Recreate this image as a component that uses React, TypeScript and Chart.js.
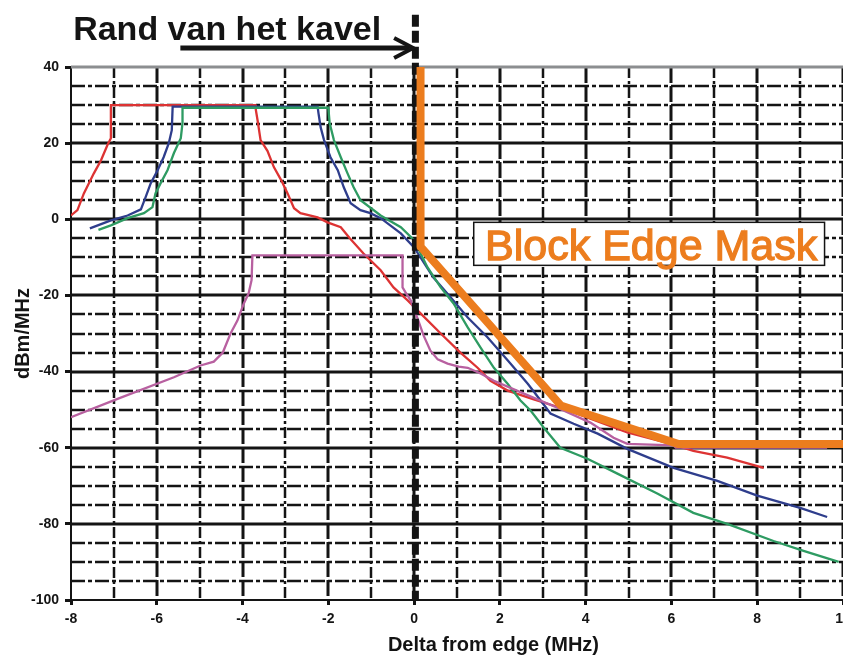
import React, { useEffect, useRef } from 'react';
import { Chart, registerables } from 'chart.js';

Chart.register(...registerables);

// ---------- axis ranges & tick labels ----------
const X_MIN = -8;
const X_MAX = 10;
const Y_MIN = -100;
const Y_MAX = 40;
const xTickLabels = [-8, -6, -4, -2, 0, 2, 4, 6, 8, 10];
const yTickLabels = [40, 20, 0, -20, -40, -60, -80, -100];

// ---------- series (x = MHz from block edge, y = dBm/MHz) ----------
const redSeries: [number, number][] = [
  [-8.0, 1.0], [-7.85, 2.4], [-7.7, 6.8], [-7.47, 12], [-7.3, 15.5], [-7.15, 19.5], [-7.07, 21.3],
  [-7.07, 30], [-3.7, 30], [-3.69, 28.7], [-3.65, 26], [-3.58, 20.8], [-3.42, 18], [-3.27, 13.7],
  [-3.1, 10.3], [-2.95, 6.8], [-2.8, 2.9], [-2.65, 1.6], [-2.25, 0.5], [-2.02, -0.8], [-1.71, -2.1],
  [-1.5, -5], [-1.18, -9], [-0.78, -13.4], [-0.48, -17.9], [-0.15, -21.3], [0.15, -24.7], [0.62, -30],
  [1.08, -35], [1.48, -39], [1.78, -42.4], [2.18, -45], [2.79, -47.3], [3.41, -49.5], [4.11, -52.4],
  [4.97, -56], [5.9, -58.7], [6.51, -60.8], [7.3, -62.6], [8.15, -65.3],
];

const blueSeries: [number, number][] = [
  [-7.56, -2.4], [-7.07, -0.3], [-6.68, 1], [-6.37, 2.6], [-6.26, 5.8], [-6.14, 9.5], [-5.98, 12.9],
  [-5.84, 16.3], [-5.72, 20], [-5.65, 23.4], [-5.63, 29.6], [-2.25, 29.6], [-2.23, 27.9], [-2.18, 24.2],
  [-2.1, 20.8], [-1.95, 16.3], [-1.78, 12.9], [-1.64, 8.4], [-1.48, 4.2], [-1.25, 2.4], [-1.02, 1.6],
  [-0.78, 0.3], [-0.31, -3.7], [0, -7.4], [0.45, -15.3], [0.85, -20.5], [1.25, -25.8], [1.71, -31],
  [2.18, -37], [2.65, -43.2], [2.95, -47.6], [3.18, -51], [3.72, -53.7], [4.28, -56.3], [4.97, -60.3],
  [6.05, -65.3], [7.07, -68.7], [8.0, -72.6], [9.0, -75.8], [9.63, -78.2],
];

const greenSeries: [number, number][] = [
  [-7.36, -2.8], [-7.07, -1.6], [-6.68, 0.3], [-6.3, 1.6], [-6.1, 3.2], [-6.03, 6.8], [-5.91, 9.5],
  [-5.75, 12.9], [-5.6, 17.4], [-5.44, 21.3], [-5.4, 25.3], [-5.4, 29.3], [-2.0, 29.3], [-1.97, 25.3],
  [-1.87, 20.8], [-1.71, 16.3], [-1.55, 12], [-1.41, 8.4], [-1.25, 5], [-0.78, 1], [-0.31, -2.1],
  [0, -5.5], [0.31, -12.6], [0.62, -17.9], [0.92, -22.1], [1.25, -28.4], [1.55, -33.7], [1.86, -39],
  [2.18, -43.2], [2.48, -47.6], [2.72, -50.3], [3.02, -54.7], [3.41, -60], [4.04, -62.9], [4.74, -66.8],
  [5.68, -72.1], [6.51, -77.1], [7.3, -80], [8.38, -84.5], [9.08, -87.1], [9.9, -90],
];

const magentaSeries: [number, number][] = [
  [-8.0, -52], [-6.9, -47.1], [-5.6, -41.5], [-4.98, -38.4], [-4.67, -37.4], [-4.46, -35], [-4.28, -30],
  [-4.12, -26.6], [-3.97, -22.1], [-3.86, -19.5], [-3.79, -16], [-3.77, -9.5], [-0.27, -9.5],
  [-0.27, -17.9], [-0.2, -19.2], [-0.08, -21.3], [0.08, -26], [0.22, -30.5], [0.38, -34.5], [0.55, -36.8],
  [0.78, -37.9], [1.04, -38.7], [1.25, -39], [1.55, -40.5], [1.86, -42.4], [2.56, -45.8], [3.34, -49.5],
  [4.11, -53.4], [4.65, -57.4], [4.97, -59], [6.05, -59.4], [6.1, -60], [9.63, -60],
];

const maskSeries: [number, number][] = [
  [0.15, 40], [0.15, -7.2], [3.42, -48.9], [6.15, -59], [10, -59],
];

// block edge marker (dashed black line) and annotations
const edgeX = 0.03;
const edgeTop = 53.7;
const edgeLine: [number, number][] = [[edgeX, edgeTop], [edgeX, Y_MIN]];

const titleText = 'Rand van het kavel';
const maskLabel = 'Block Edge Mask';
const xTitle = 'Delta from edge (MHz)';
const yTitle = 'dBm/MHz';

const COLORS = {
  red: '#dd3333',
  blue: '#2e3d8c',
  green: '#2e9b62',
  magenta: '#b860a0',
  orange: '#ec7d1e',
  ink: '#141414',
  grey: '#8c8e90',
};

const toXY = (arr: [number, number][]) => arr.map(([x, y]) => ({ x, y }));

const gridPlugin = {
  id: 'customGrid',
  beforeDatasetsDraw(chart: any) {
    const { ctx, chartArea: a, scales } = chart;
    const xs = scales.x;
    const ys = scales.y;
    ctx.save();
    // vertical lines every 1 MHz
    for (let v = X_MIN + 1; v <= X_MAX; v++) {
      const px = Math.round(xs.getPixelForValue(v));
      const even = v % 2 === 0;
      ctx.beginPath();
      ctx.lineWidth = even ? 3 : 2.5;
      ctx.strokeStyle = COLORS.ink;
      ctx.setLineDash(even ? [16, 3] : [11, 3, 3, 3]);
      ctx.moveTo(px, a.top);
      ctx.lineTo(px, a.bottom);
      ctx.stroke();
    }
    // horizontal lines every 5 dB
    for (let v = Y_MIN + 5; v <= Y_MAX; v += 5) {
      const py = Math.round(ys.getPixelForValue(v));
      ctx.beginPath();
      if (v === Y_MAX) {
        ctx.lineWidth = 3;
        ctx.strokeStyle = COLORS.grey;
        ctx.setLineDash([]);
      } else if (v % 20 === 0) {
        ctx.lineWidth = 3;
        ctx.strokeStyle = COLORS.ink;
        ctx.setLineDash([]);
      } else {
        ctx.lineWidth = 2.5;
        ctx.strokeStyle = COLORS.ink;
        ctx.setLineDash([14, 3, 4, 3]);
      }
      ctx.moveTo(a.left, py);
      ctx.lineTo(a.right, py);
      ctx.stroke();
    }
    ctx.restore();
  },
};

const annotationPlugin = {
  id: 'annotations',
  afterDatasetsDraw(chart: any) {
    const { ctx, chartArea: a, scales } = chart;
    const xs = scales.x;
    const ys = scales.y;
    ctx.save();
    ctx.setLineDash([]);

    // Block Edge Mask box
    const bx0 = xs.getPixelForValue(1.39);
    const bx1 = xs.getPixelForValue(9.57);
    const by0 = ys.getPixelForValue(-0.8);
    const by1 = ys.getPixelForValue(-12.1);
    ctx.fillStyle = '#ffffff';
    ctx.fillRect(bx0, by0, bx1 - bx0, by1 - by0);
    ctx.lineWidth = 1.5;
    ctx.strokeStyle = COLORS.ink;
    ctx.strokeRect(bx0, by0, bx1 - bx0, by1 - by0);
    ctx.fillStyle = COLORS.orange;
    ctx.strokeStyle = COLORS.orange;
    ctx.lineWidth = 1.3;
    ctx.font = '43px "Liberation Sans", Arial, sans-serif';
    ctx.textAlign = 'center';
    ctx.textBaseline = 'alphabetic';
    const mx = (bx0 + bx1) / 2 + 2;
    const my = ys.getPixelForValue(-10.8);
    ctx.fillText(maskLabel, mx, my);
    ctx.strokeText(maskLabel, mx, my);

    // Title text + arrow above the chart
    ctx.fillStyle = COLORS.ink;
    ctx.font = 'bold 34px "Liberation Sans", Arial, sans-serif';
    ctx.textAlign = 'left';
    ctx.fillText(titleText, xs.getPixelForValue(-7.95), a.top - 27);

    const ay = a.top - 19;
    const tip = xs.getPixelForValue(0) - 1;
    ctx.strokeStyle = COLORS.ink;
    ctx.lineWidth = 5;
    ctx.beginPath();
    ctx.moveTo(xs.getPixelForValue(-5.45), ay);
    ctx.lineTo(tip - 4, ay);
    ctx.stroke();
    ctx.lineWidth = 4;
    ctx.beginPath();
    ctx.moveTo(tip - 19, ay - 10);
    ctx.lineTo(tip, ay);
    ctx.lineTo(tip - 19, ay + 10);
    ctx.stroke();

    // axis titles
    ctx.font = 'bold 20px "Liberation Sans", Arial, sans-serif';
    ctx.textAlign = 'center';
    ctx.textBaseline = 'middle';
    ctx.fillText(xTitle, xs.getPixelForValue(1.85), a.bottom + 45);
    ctx.save();
    ctx.translate(23, (a.top + a.bottom) / 2);
    ctx.rotate(-Math.PI / 2);
    ctx.fillText(yTitle, 0, 0);
    ctx.restore();

    ctx.restore();
  },
};

const tickFont = {
  family: '"Liberation Sans Narrow", "Liberation Sans", Arial, sans-serif',
  size: 14,
  weight: 'bold' as const,
};

export default function App() {
  const canvasRef = useRef<HTMLCanvasElement | null>(null);

  useEffect(() => {
    document.body.style.margin = '0';
    document.body.style.overflow = 'hidden';
    const canvas = canvasRef.current;
    if (!canvas) return;

    const line = (data: [number, number][], color: string, width: number, order: number, extra: any = {}) => ({
      data: toXY(data),
      borderColor: color,
      backgroundColor: color,
      borderWidth: width,
      pointRadius: 0,
      tension: 0,
      fill: false,
      order,
      ...extra,
    });

    const chart = new Chart(canvas, {
      type: 'line',
      data: {
        datasets: [
          line(maskSeries, COLORS.orange, 8, 0, { borderJoinStyle: 'round' }),
          line(edgeLine, COLORS.ink, 7, 1, { borderDash: [12, 4], clip: false, borderCapStyle: 'butt' }),
          line(magentaSeries, COLORS.magenta, 2.3, 2),
          line(greenSeries, COLORS.green, 2.3, 3),
          line(blueSeries, COLORS.blue, 2.3, 4),
          line(redSeries, COLORS.red, 2.3, 5),
        ] as any,
      },
      options: {
        responsive: false,
        animation: false,
        devicePixelRatio: 1,
        layout: { padding: { left: 0, top: 67, right: 57, bottom: 0 } },
        plugins: { legend: { display: false }, tooltip: { enabled: false } },
        scales: {
          x: {
            type: 'linear',
            min: X_MIN,
            max: X_MAX,
            afterFit: (s: any) => { s.height = 56; },
            ticks: {
              stepSize: 1,
              autoSkip: false,
              maxRotation: 0,
              padding: 6,
              color: COLORS.ink,
              font: tickFont,
              callback: (v: any) => (xTickLabels.includes(Number(v)) ? String(v) : ''),
            },
            grid: {
              drawOnChartArea: false,
              drawTicks: true,
              tickLength: 5,
              tickWidth: 3,
              tickColor: (c: any) => (c.tick && xTickLabels.includes(c.tick.value) ? COLORS.ink : 'rgba(0,0,0,0)'),
            },
            border: { display: true, color: COLORS.ink, width: 2 },
          },
          y: {
            type: 'linear',
            min: Y_MIN,
            max: Y_MAX,
            afterFit: (s: any) => { s.width = 71; },
            ticks: {
              stepSize: 5,
              autoSkip: false,
              padding: 6,
              color: COLORS.ink,
              font: tickFont,
              callback: (v: any) => (yTickLabels.includes(Number(v)) ? String(v) : ''),
            },
            grid: {
              drawOnChartArea: false,
              drawTicks: true,
              tickLength: 6,
              tickWidth: 3,
              tickColor: (c: any) => (c.tick && yTickLabels.includes(c.tick.value) ? COLORS.ink : 'rgba(0,0,0,0)'),
            },
            border: { display: true, color: COLORS.ink, width: 2 },
          },
        },
      } as any,
      plugins: [gridPlugin, annotationPlugin],
    });

    return () => chart.destroy();
  }, []);

  return (
    <div style={{ position: 'fixed', left: 0, top: 0, width: 900, height: 656, background: '#fff' }}>
      <canvas ref={canvasRef} width={900} height={656} style={{ display: 'block' }} />
    </div>
  );
}
